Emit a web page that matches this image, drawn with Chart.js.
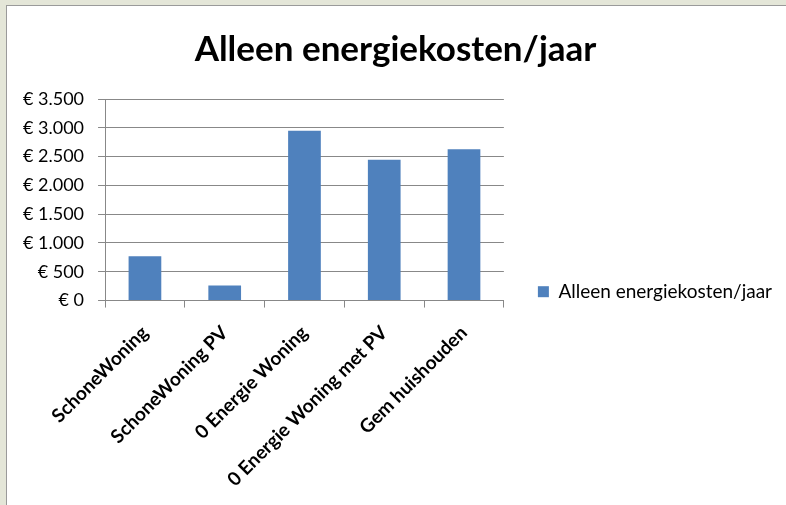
<!DOCTYPE html>
<html>
<head>
<meta charset="utf-8">
<script src="https://cdn.jsdelivr.net/npm/chart.js@4"></script>
<style>
    html, body {
        margin: 0;
        padding: 0;
        width: 786px;
        height: 505px;
        overflow: hidden;
        background: #e4e6d8;
    }
    .frame {
        position: absolute;
        left: 6px;
        top: 5px;
        width: 780px;
        height: 500px;
        border-left: 1px solid #9a9a9a;
        border-top: 1px solid #9a9a9a;
        background: #ffffff;
    }
    .frame canvas {
        display: block;
    }
</style>
</head>
<body>
<div class="frame">
    <canvas id="energy-chart" width="779" height="499"></canvas>
</div>
<script>
// Chart data
const categories = ['SchoneWoning', 'SchoneWoning PV', '0 Energie Woning', '0 Energie Woning met PV', 'Gem huishouden'];
const costs = [770, 262, 2950, 2447, 2628];
const seriesLabel = 'Alleen energiekosten/jaar';
const chartTitle = 'Alleen energiekosten/jaar';

const FONT = 'Lato, "Open Sans", sans-serif';
const GRID = '#888888';
const BAR = '#4f81bd';

function euro(value) {
    const s = String(Math.round(value)).replace(/\B(?=(\d{3})+(?!\d))/g, '.');
    return '€ ' + s;
}

const ctx = document.getElementById('energy-chart');

new Chart(ctx, {
    type: 'bar',
    data: {
        labels: categories,
        datasets: [{
            label: seriesLabel,
            data: costs,
            backgroundColor: BAR,
            borderWidth: 0,
            barPercentage: 0.41,
            categoryPercentage: 1.0
        }]
    },
    options: {
        responsive: false,
        animation: false,
        layout: {
            padding: { left: 2, right: 4, top: 0, bottom: 0 }
        },
        plugins: {
            title: {
                display: true,
                text: chartTitle,
                color: '#000000',
                font: { family: FONT, size: 35, weight: 'bold' },
                padding: { top: 23, bottom: 28 }
            },
            legend: {
                position: 'right',
                maxWidth: 283,
                // empty legend title only pushes the entry down a bit
                title: {
                    display: true,
                    text: '',
                    font: { size: 12 },
                    padding: 29
                },
                labels: {
                    color: '#000000',
                    font: { family: FONT, size: 19 },
                    boxWidth: 11,
                    boxHeight: 11,
                    padding: 34
                }
            },
            tooltip: { enabled: false }
        },
        scales: {
            x: {
                offset: true,
                grid: {
                    offset: true,
                    drawOnChartArea: false,
                    drawTicks: true,
                    tickLength: 7,
                    color: GRID
                },
                border: { display: true, color: GRID },
                ticks: {
                    color: '#000000',
                    autoSkip: false,
                    minRotation: 45,
                    maxRotation: 45,
                    padding: 14,
                    font: { family: FONT, size: 19, weight: 'bold' }
                },
                // rotated labels may hang left of the plot, don't let them push it
                afterFit: function(scale) {
                    scale.paddingLeft = 0;
                }
            },
            y: {
                min: 0,
                max: 3500,
                grid: {
                    color: GRID,
                    tickLength: 7
                },
                border: { display: true, color: GRID },
                ticks: {
                    stepSize: 500,
                    color: '#000000',
                    padding: 14,
                    font: { family: FONT, size: 18 },
                    callback: function(value) {
                        return euro(value);
                    }
                }
            }
        }
    }
});
</script>
</body>
</html>
